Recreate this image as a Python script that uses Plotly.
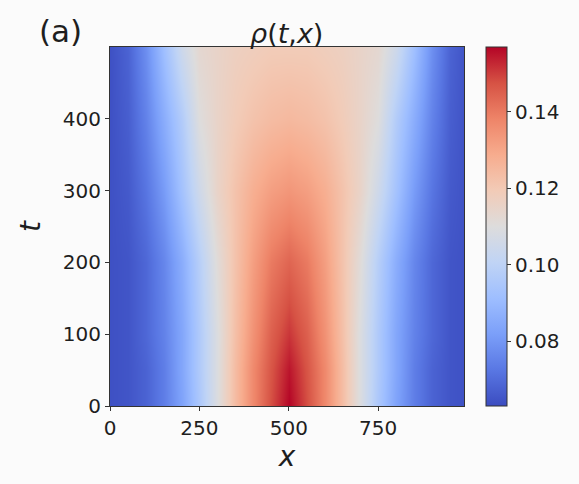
import plotly.graph_objects as go

x_vals = [0, 50, 100, 150, 200, 250, 300, 350, 400, 450, 500,
          550, 600, 650, 700, 750, 800, 850, 900, 950, 1000]
t_vals = [0, 50, 100, 200, 300, 400, 500]

rho_t0 = [0.064, 0.065, 0.068, 0.074, 0.083, 0.095, 0.109, 0.124, 0.137, 0.148, 0.157,
          0.148, 0.137, 0.124, 0.109, 0.095, 0.083, 0.074, 0.068, 0.065, 0.064]
rho_t50 = [0.064, 0.065, 0.068, 0.074, 0.084, 0.096, 0.109, 0.124, 0.137, 0.147, 0.155,
           0.147, 0.137, 0.124, 0.109, 0.096, 0.084, 0.074, 0.068, 0.065, 0.064]
rho_t100 = [0.064, 0.065, 0.069, 0.075, 0.084, 0.096, 0.109, 0.123, 0.135, 0.145, 0.151,
            0.145, 0.135, 0.123, 0.109, 0.096, 0.084, 0.075, 0.069, 0.065, 0.064]
rho_t200 = [0.064, 0.065, 0.069, 0.076, 0.086, 0.098, 0.111, 0.122, 0.132, 0.140, 0.144,
            0.140, 0.132, 0.122, 0.111, 0.098, 0.086, 0.076, 0.069, 0.065, 0.064]
rho_t300 = [0.064, 0.066, 0.072, 0.081, 0.093, 0.105, 0.115, 0.122, 0.128, 0.132, 0.134,
            0.132, 0.128, 0.122, 0.115, 0.105, 0.093, 0.081, 0.072, 0.066, 0.064]
rho_t400 = [0.064, 0.067, 0.075, 0.086, 0.097, 0.110, 0.115, 0.119, 0.122, 0.124, 0.125,
            0.124, 0.122, 0.119, 0.115, 0.110, 0.097, 0.086, 0.075, 0.067, 0.064]
rho_t500 = [0.064, 0.068, 0.078, 0.092, 0.105, 0.113, 0.115, 0.117, 0.118, 0.119, 0.119,
            0.119, 0.118, 0.117, 0.115, 0.113, 0.105, 0.092, 0.078, 0.068, 0.064]

rho = [rho_t0, rho_t50, rho_t100, rho_t200, rho_t300, rho_t400, rho_t500]

colorbar_ticks = [0.08, 0.10, 0.12, 0.14]
x_ticks = [0, 250, 500, 750]
t_ticks = [0, 100, 200, 300, 400]

coolwarm = [
    [0.0, "#3b4cc0"], [0.1, "#5977e3"], [0.2, "#7b9ff9"], [0.3, "#9ebeff"],
    [0.4, "#c0d4f5"], [0.5, "#dddcdc"], [0.6, "#f2cbb7"], [0.7, "#f7ac8e"],
    [0.8, "#ee8468"], [0.9, "#d65244"], [1.0, "#b40426"],
]

font_fam = "DejaVu Sans"
txt = "#1e1e1e"
tick_size = 20

fig = go.Figure(go.Heatmap(
    x=x_vals, y=t_vals, z=rho,
    colorscale=coolwarm, zmin=0.063, zmax=0.157, zsmooth="best",
    colorbar=dict(
        x=1.062, xanchor="left", xpad=0, y=0.5, yanchor="middle", len=1.0,
        lenmode="fraction", thickness=21, ypad=0,
        outlinecolor="#333", outlinewidth=1,
        tickvals=colorbar_ticks, ticktext=[f"{v:.2f}" for v in colorbar_ticks],
        ticks="outside", ticklen=4, tickcolor="#333",
        tickfont=dict(family=font_fam, size=tick_size, color=txt),
    ),
))

fig.update_layout(
    width=579, height=484,
    margin=dict(l=110, r=115, t=47, b=78),
    paper_bgcolor="#fbfbfb", plot_bgcolor="#fbfbfb",
    showlegend=False,
    annotations=[
        dict(text="(a)", x=(37 - 110) / 354, y=1 + (47 - 31) / 359, xref="paper", yref="paper",
             showarrow=False, xanchor="left", yanchor="middle",
             font=dict(family=font_fam, size=31, color=txt)),
        dict(text="<i>ρ</i>(<i>t</i>,<i>x</i>)", xref="paper", yref="paper",
             x=(286 - 110) / 354, y=1.0, xanchor="center", yanchor="bottom", yshift=-4,
             showarrow=False, font=dict(family=font_fam, size=27, color=txt)),
    ],
)

fig.update_xaxes(
    range=[0, 990], tickvals=x_ticks, ticks="outside", ticklen=4, tickcolor="#333",
    showline=True, linecolor="#333", linewidth=1, mirror=True, showgrid=False, zeroline=False,
    tickfont=dict(family=font_fam, size=tick_size, color=txt),
    title=dict(text="<i>x</i>", font=dict(family=font_fam, size=28, color=txt), standoff=2),
)
fig.update_yaxes(
    range=[0, 500], tickvals=t_ticks, ticks="outside", ticklen=4, tickcolor="#333",
    showline=True, linecolor="#333", linewidth=1, mirror=True, showgrid=False, zeroline=False,
    tickfont=dict(family=font_fam, size=tick_size, color=txt),
    title=dict(text="<i>t</i>", font=dict(family=font_fam, size=28, color=txt), standoff=14),
)

fig.write_html("out.html")
